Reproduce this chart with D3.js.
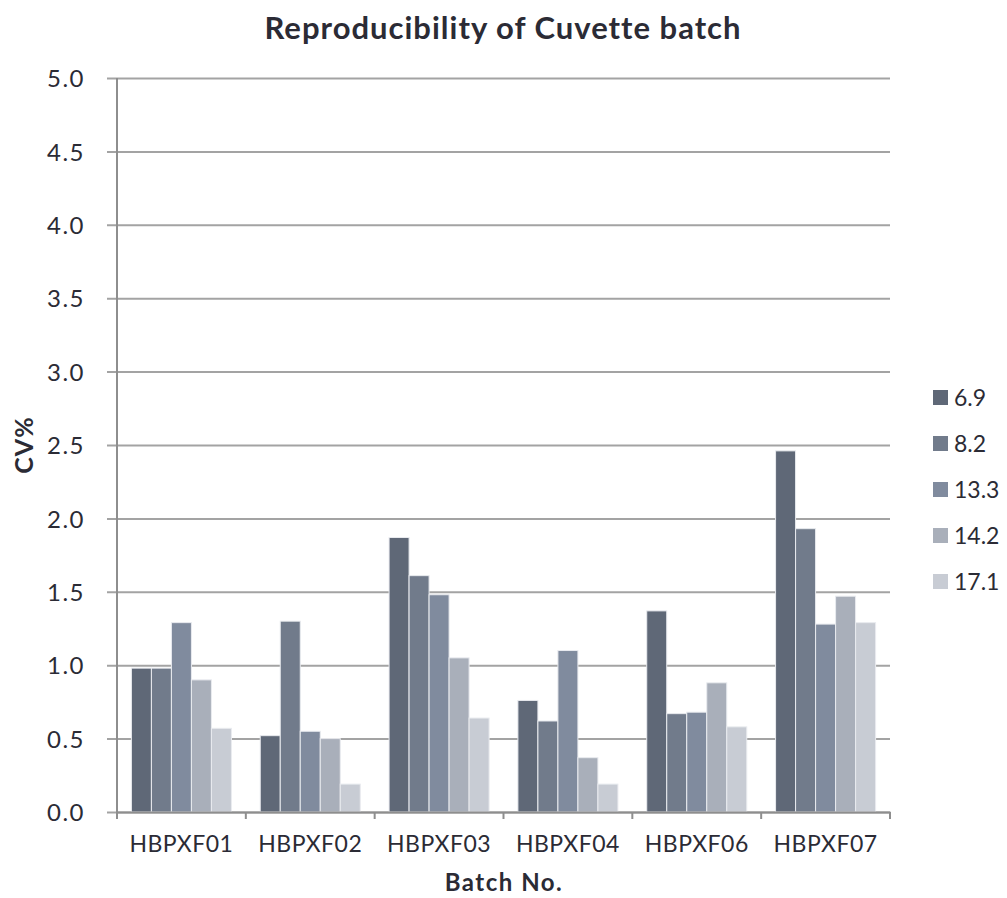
<!DOCTYPE html>
<html>
<head>
<meta charset="utf-8">
<script src="https://cdn.jsdelivr.net/npm/d3@7"></script>
<style>
  body { margin: 0; background: #fff; }
  text { font-family: Lato, "DejaVu Sans", sans-serif; fill: #2b2b35; }
</style>
</head>
<body>
<script>
var batches = ["HBPXF01", "HBPXF02", "HBPXF03", "HBPXF04", "HBPXF06", "HBPXF07"];
var levels = ["6.9", "8.2", "13.3", "14.2", "17.1"];
var cv69  = [0.98, 0.52, 1.87, 0.76, 1.37, 2.46];
var cv82  = [0.98, 1.30, 1.61, 0.62, 0.67, 1.93];
var cv133 = [1.29, 0.55, 1.48, 1.10, 0.68, 1.28];
var cv142 = [0.90, 0.50, 1.05, 0.37, 0.88, 1.47];
var cv171 = [0.57, 0.19, 0.64, 0.19, 0.58, 1.29];
var yTicks = [0, 0.5, 1, 1.5, 2, 2.5, 3, 3.5, 4, 4.5, 5];
var colors = ["#5f6877", "#717b8b", "#808b9e", "#a9afba", "#c8ccd4"];

var series = [cv69, cv82, cv133, cv142, cv171];
var width = 1007, height = 898;
var plotL = 117, plotR = 890, plotT = 78, plotB = 812;

var svg = d3.select("body").append("svg")
  .attr("width", width).attr("height", height);

var x0 = d3.scaleBand().domain(batches).range([plotL, plotR]).padding(0);
var x1 = d3.scaleBand().domain(levels).range([0, x0.bandwidth()]).paddingInner(0).paddingOuter(0.72);
var y = d3.scaleLinear().domain([0, 5]).range([plotB, plotT]);

// gridlines + y labels
var yAxis = d3.axisLeft(y).tickValues(yTicks).tickSize(-(plotR - plotL + 10)).tickFormat(d3.format(".1f"));
svg.append("g").attr("transform", "translate(" + (plotL - 10) + ",0)")
  .call(yAxis)
  .call(function (g) {
    g.select(".domain").remove();
    g.selectAll(".tick line").attr("stroke", "#a3a3a3").attr("stroke-width", 2);
    g.selectAll(".tick text").attr("x", -22).attr("dy", "0.36em")
      .style("font-size", "24px").style("font-weight", "400").style("letter-spacing", "1.5px")
      .style("font-family", "Lato, sans-serif").attr("fill", "#34343e");
  });

// bars
var rows = [];
batches.forEach(function (b, i) {
  levels.forEach(function (l, j) { rows.push({ batch: b, level: l, idx: j, value: series[j][i] }); });
});
svg.append("g").selectAll("rect").data(rows).enter().append("rect")
  .attr("x", function (d) { return x0(d.batch) + x1(d.level); })
  .attr("y", function (d) { return y(d.value); })
  .attr("width", x1.bandwidth())
  .attr("height", function (d) { return y(0) - y(d.value); })
  .attr("fill", function (d) { return colors[d.idx]; })
  .attr("stroke", "#e9ebef").attr("stroke-width", 1);

// axis lines
svg.append("line").attr("x1", plotL).attr("x2", plotL).attr("y1", plotT).attr("y2", plotB)
  .attr("stroke", "#8e8e8e").attr("stroke-width", 2);
var xAxis = d3.axisBottom(x0).tickSize(0).tickPadding(24);
svg.append("g").attr("transform", "translate(0," + plotB + ")")
  .call(xAxis)
  .call(function (g) {
    g.select(".domain").attr("stroke", "#8e8e8e").attr("stroke-width", 2);
    g.selectAll(".tick text").style("font-size", "23px").style("font-weight", "400").style("letter-spacing", "0.5px")
      .style("font-family", "Lato, sans-serif").attr("fill", "#34343e");
  });
var bounds = batches.map(function (b) { return x0(b); }).concat([x0.range()[1]]);
svg.append("g").selectAll("line").data(bounds).enter().append("line")
  .attr("x1", function (d) { return d; }).attr("x2", function (d) { return d; })
  .attr("y1", plotB).attr("y2", plotB + 7)
  .attr("stroke", "#8e8e8e").attr("stroke-width", 2);

// titles
svg.append("text").attr("x", 503).attr("y", 39).attr("text-anchor", "middle")
  .style("font-size", "31px").style("font-weight", "bold").style("letter-spacing", "1px")
  .text("Reproducibility of Cuvette batch");
svg.append("text").attr("x", 504).attr("y", 891).attr("text-anchor", "middle")
  .style("font-size", "24px").style("font-weight", "bold").style("letter-spacing", "1.5px")
  .text("Batch No.");
svg.append("text").attr("transform", "translate(33,445) rotate(-90)").attr("text-anchor", "middle")
  .style("font-size", "25px").style("font-weight", "bold").style("letter-spacing", "1px")
  .text("CV%");

// legend
var legend = svg.append("g").selectAll("g").data(levels).enter().append("g")
  .attr("transform", function (d, i) { return "translate(933," + (390 + i * 46) + ")"; });
legend.append("rect").attr("width", 15).attr("height", 15)
  .attr("fill", function (d, i) { return colors[i]; });
legend.append("text").attr("x", 21).attr("y", 8).attr("dy", "0.36em")
  .style("font-size", "23px").style("font-weight", "400")
  .attr("fill", "#34343e")
  .text(function (d) { return d; });
</script>
</body>
</html>
